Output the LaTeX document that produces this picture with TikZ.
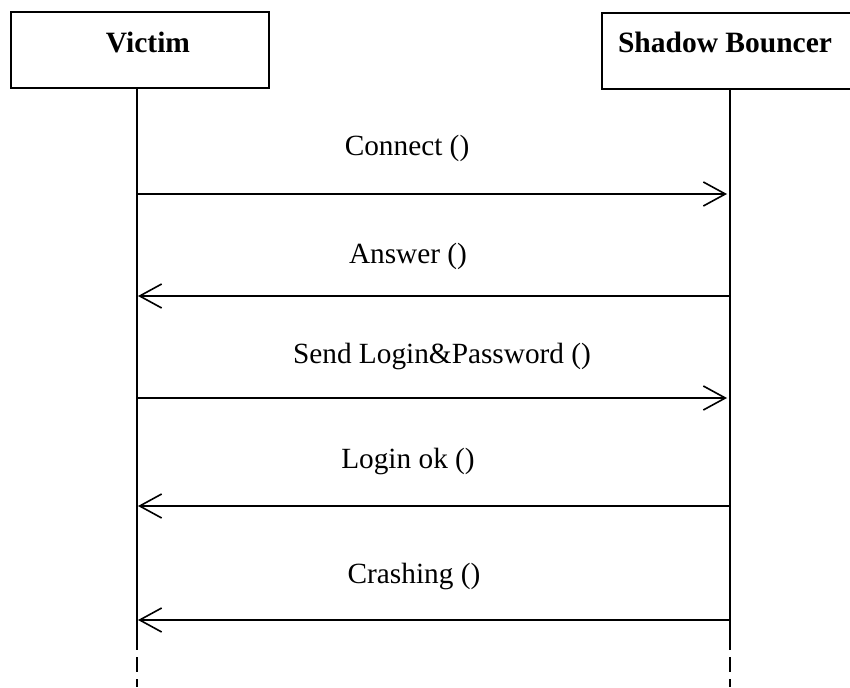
\documentclass[tikz,border=0pt]{standalone}
\usepackage{fontspec}
\setmainfont{Liberation Serif}
\usetikzlibrary{arrows.meta}
\begin{document}
\begin{tikzpicture}[x=1pt,y=-1pt,
  objbox/.style={draw,line width=1.6pt},
  title/.style={font=\fontsize{29.5}{32}\selectfont\bfseries,anchor=base,inner sep=0pt},
  msglabel/.style={font=\fontsize{29.3}{32}\selectfont,anchor=base,inner sep=0pt},
  lifeline/.style={line width=1.6pt},
  lifedash/.style={line width=1.6pt,dash pattern=on 15pt off 7pt},
  msg/.style={line width=1.6pt,-{Straight Barb[length=22pt,width=24pt,line width=1.6pt]}}
]
\useasboundingbox (0,0) rectangle (850,687);
\fill[white] (0,0) rectangle (850,687);
\clip (0,0) rectangle (850,687);
% boxes
\draw[objbox] (11,12) rectangle (269,88);
\draw[objbox] (602,13) rectangle (854,89);
\node[title] (victim) at (148,53) {Victim};
\node[title] (shadow) at (725,53) {Shadow Bouncer};
% lifeline coordinates
\coordinate (vtop) at (137,88);
\coordinate (vsol) at (137,650);
\coordinate (vds) at (137,657);
\coordinate (vend) at (137,687);
\coordinate (stop) at (730,89);
\coordinate (ssol) at (730,650);
\coordinate (sds) at (730,657);
\coordinate (send) at (730,687);
\draw[lifeline] (vtop) -- (vsol);
\draw[lifedash] (vds) -- (vend);
\draw[lifeline] (stop) -- (ssol);
\draw[lifedash] (sds) -- (send);
% message endpoints
\coordinate (v1) at (137,194); \coordinate (s1) at (727,194);
\coordinate (v2) at (138,296); \coordinate (s2) at (730,296);
\coordinate (v3) at (137,398); \coordinate (s3) at (727,398);
\coordinate (v4) at (138,506); \coordinate (s4) at (730,506);
\coordinate (v5) at (138,620); \coordinate (s5) at (730,620);
\draw[msg] (v1) -- (s1);
\draw[msg] (s2) -- (v2);
\draw[msg] (v3) -- (s3);
\draw[msg] (s4) -- (v4);
\draw[msg] (s5) -- (v5);
% labels
\node[msglabel] (l1) at (407,156) {Connect ()};
\node[msglabel] (l2) at (408,263) {Answer ()};
\node[msglabel] (l3) at (442,363) {Send Login\&Password ()};
\node[msglabel] (l4) at (408,468) {Login ok ()};
\node[msglabel] (l5) at (414,583) {Crashing ()};
\end{tikzpicture}
\end{document}
